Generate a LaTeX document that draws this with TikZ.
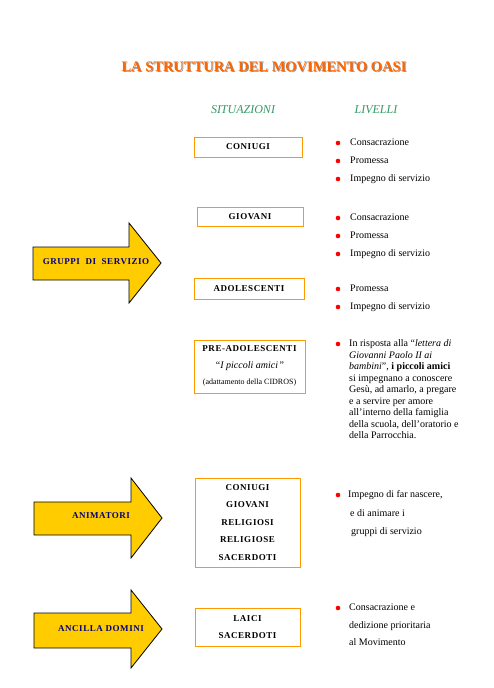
\documentclass[tikz,border=0pt]{standalone}
\usepackage{fontspec}
\setmainfont{Liberation Serif}
\newfontfamily\boxfont[LetterSpace=6]{Liberation Serif}
\definecolor{titleorange}{RGB}{255,102,0}
\definecolor{boxorange}{RGB}{255,153,0}
\definecolor{arrowgold}{RGB}{255,204,0}
\definecolor{navytext}{RGB}{0,0,128}
\definecolor{headgreen}{RGB}{51,153,102}
\definecolor{shadowgray}{RGB}{150,150,150}
\definecolor{bulletred}{RGB}{255,0,0}
\tikzset{
  sbox/.style={draw=boxorange, line width=0.9pt, inner sep=0pt, align=center,
    font={\boxfont\bfseries\fontsize{9}{17.5}\selectfont}},
  arrowshape/.style={draw=black, line width=0.8pt, fill=arrowgold},
  arrowtext/.style={text=navytext, font={\boxfont\bfseries\fontsize{9}{10}\selectfont}},
  item/.style={anchor=west, inner sep=0pt, text height=7pt, text depth=2pt,
    font={\fontsize{10}{11.5}\selectfont}},
  bul/.style={circle, fill=bulletred, inner sep=0pt, minimum size=4.6pt},
  head/.style={text=headgreen, font={\itshape\fontsize{12}{14}\selectfont}},
}
\begin{document}
\begin{tikzpicture}[x=1pt,y=-1pt]
\useasboundingbox (0,0) rectangle (493,688);

% title
\node[text=shadowgray, font={\bfseries\fontsize{14.5}{16}\selectfont}] (titleshadow) at (265,68) {LA STRUTTURA DEL MOVIMENTO OASI};
\node[text=titleorange, font={\bfseries\fontsize{14.5}{16}\selectfont}] (title) at (264,67) {LA STRUTTURA DEL MOVIMENTO OASI};

% headings
\node[head] (situazioni) at (243,110) {SITUAZIONI};
\node[head] (livelli) at (376,110) {LIVELLI};

% boxes
\node[sbox, minimum width=108pt, minimum height=20pt] (coniugi) at (248,147) {CONIUGI};
\node[sbox, minimum width=106pt, minimum height=19pt] (giovani) at (250,216.5) {GIOVANI};
\node[sbox, minimum width=110pt, minimum height=21pt] (adolescenti) at (249,288.5) {ADOLESCENTI};
\node[sbox, minimum width=111pt, minimum height=53pt] (preado) at (249.5,366.5) {};
\node[font={\boxfont\bfseries\fontsize{9}{10}\selectfont}] (preadotitle) at (249.5,349) {PRE-ADOLESCENTI};
\node[font={\fontsize{10}{11}\selectfont}] (preadoamici) at (250,366) {“\textit{I piccoli amici}\,”};
\node[font={\fontsize{8}{9}\selectfont}] (preadocidros) at (249.5,383) {(adattamento della CIDROS)};
\node[sbox, minimum width=105pt, minimum height=89pt] (animbox) at (247.5,522.5) {CONIUGI\\GIOVANI\\RELIGIOSI\\RELIGIOSE\\SACERDOTI};
\node[sbox, minimum width=105pt, minimum height=38pt] (ancbox) at (247.5,627) {LAICI\\SACERDOTI};

% arrows
\draw[arrowshape] (33,247) -- (129,247) -- (129,223) -- (161,263) -- (129,303) -- (129,280) -- (33,280) -- cycle;
\node[arrowtext] (gruppi) at (96,262) {GRUPPI\ \ DI\ \ SERVIZIO};
\draw[arrowshape] (34,502) -- (131,502) -- (131,478) -- (162,518) -- (131,558) -- (131,535) -- (34,535) -- cycle;
\node[arrowtext] (animatori) at (101,516) {ANIMATORI};
\draw[arrowshape] (34,613) -- (131,613) -- (131,590) -- (162,629) -- (131,668) -- (131,648) -- (34,648) -- cycle;
\node[arrowtext] (ancilla) at (101,629) {ANCILLA DOMINI};

% livelli lists
\node[bul] (b1) at (338,143) {};
\node[item] (t1) at (350,143) {Consacrazione};
\node[bul] (b2) at (338,161) {};
\node[item] (t2) at (350,161) {Promessa};
\node[bul] (b3) at (338,179) {};
\node[item] (t3) at (350,179) {Impegno di servizio};

\node[bul] (b4) at (338,218) {};
\node[item] (t4) at (350,218) {Consacrazione};
\node[bul] (b5) at (338,236) {};
\node[item] (t5) at (350,236) {Promessa};
\node[bul] (b6) at (338,254) {};
\node[item] (t6) at (350,254) {Impegno di servizio};

\node[bul] (b7) at (338,289) {};
\node[item] (t7) at (350,289) {Promessa};
\node[bul] (b8) at (338,307) {};
\node[item] (t8) at (350,307) {Impegno di servizio};

\node[bul] (b9) at (338,344) {};
\node[anchor=north west, inner sep=0pt, align=left, font={\fontsize{10}{11.5}\selectfont}] (t9) at (349,339.5)
 {In risposta alla “\textit{lettera di}\\
  \textit{Giovanni Paolo II ai}\\
  \textit{bambini}”, \textbf{i piccoli amici}\\
  si impegnano a conoscere\\
  Gesù, ad amarlo, a pregare\\
  e a servire per amore\\
  all’interno della famiglia\\
  della scuola, dell’oratorio e\\
  della Parrocchia.};

\node[bul] (b10) at (338,495) {};
\node[item] (t10) at (348,495) {Impegno di far nascere,};
\node[item] (t11) at (350,514) {e di animare i};
\node[item] (t12) at (351,532) {gruppi di servizio};

\node[bul] (b13) at (338,608) {};
\node[item] (t13) at (349,608) {Consacrazione e};
\node[item] (t14) at (349,626) {dedizione prioritaria};
\node[item] (t15) at (349,643) {al Movimento};
\end{tikzpicture}
\end{document}
